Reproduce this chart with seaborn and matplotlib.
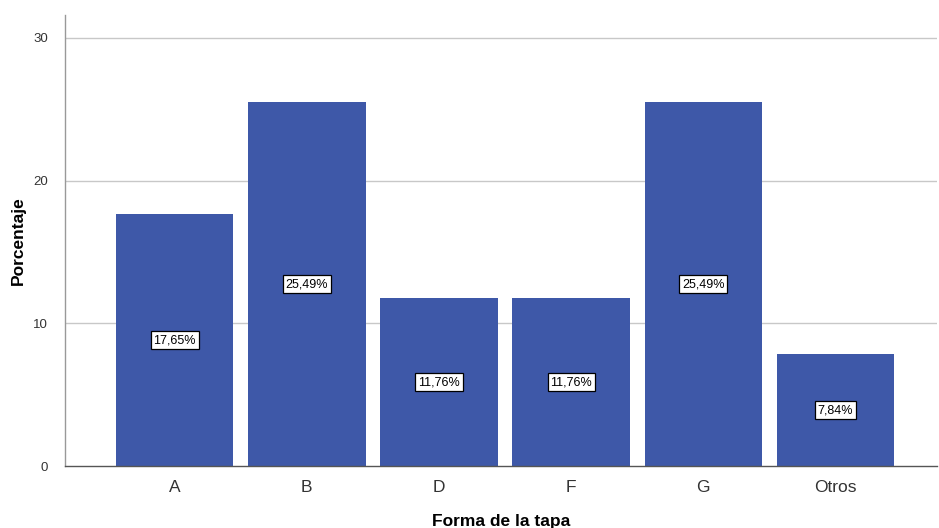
import matplotlib
matplotlib.use("Agg")
import matplotlib.pyplot as plt
import seaborn as sns
import pandas as pd

categorias = ["A", "B", "D", "F", "G", "Otros"]
porcentajes = [17.65, 25.49, 11.76, 11.76, 25.49, 7.84]
ticks_y = [0, 10, 20, 30]

sns.set_theme(style="white")
plt.rcParams["font.family"] = ["Liberation Sans", "DejaVu Sans"]

df = pd.DataFrame({"Forma de la tapa": categorias, "Porcentaje": porcentajes})

fig = plt.figure(figsize=(9.39, 5.28), dpi=100)
ax = fig.add_axes([0.0692, 0.1174, 0.929, 0.8542])

for y in ticks_y[1:]:
    ax.axhline(y, color="#c8c8c8", lw=1.0, zorder=0)

sns.barplot(data=df, x="Forma de la tapa", y="Porcentaje", color="#3e58a8",
            saturation=1, width=0.89, linewidth=0, ax=ax, zorder=2)

for patch, val in zip(ax.patches, porcentajes):
    cx = patch.get_x() + patch.get_width() / 2
    ax.text(cx, val / 2, f"{val:.2f}%".replace(".", ","), ha="center", va="center",
            fontsize=9, color="black", zorder=3,
            bbox=dict(boxstyle="square,pad=0.22", fc="white", ec="black", lw=0.9))

ax.set_xlim(-0.83, 5.77)
ax.set_ylim(0, 31.6)
ax.set_yticks(ticks_y)
ax.tick_params(axis="y", labelsize=9.5, colors="#333333", length=0, pad=12)
ax.tick_params(axis="x", labelsize=12.5, colors="#333333", length=0, pad=10)

ax.set_xlabel("Forma de la tapa", fontsize=12.5, fontweight="bold", labelpad=14, color="black")
ax.set_ylabel("Porcentaje", fontsize=12.5, fontweight="bold", color="black")
ax.yaxis.set_label_coords(-0.045, 0.5)

for s in ["top", "right"]:
    ax.spines[s].set_visible(False)
ax.spines["left"].set_color("#999999")
ax.spines["left"].set_linewidth(1.0)
ax.spines["bottom"].set_color("#555555")
ax.spines["bottom"].set_linewidth(1.0)

fig.savefig("out.png", dpi=100, facecolor="white")
